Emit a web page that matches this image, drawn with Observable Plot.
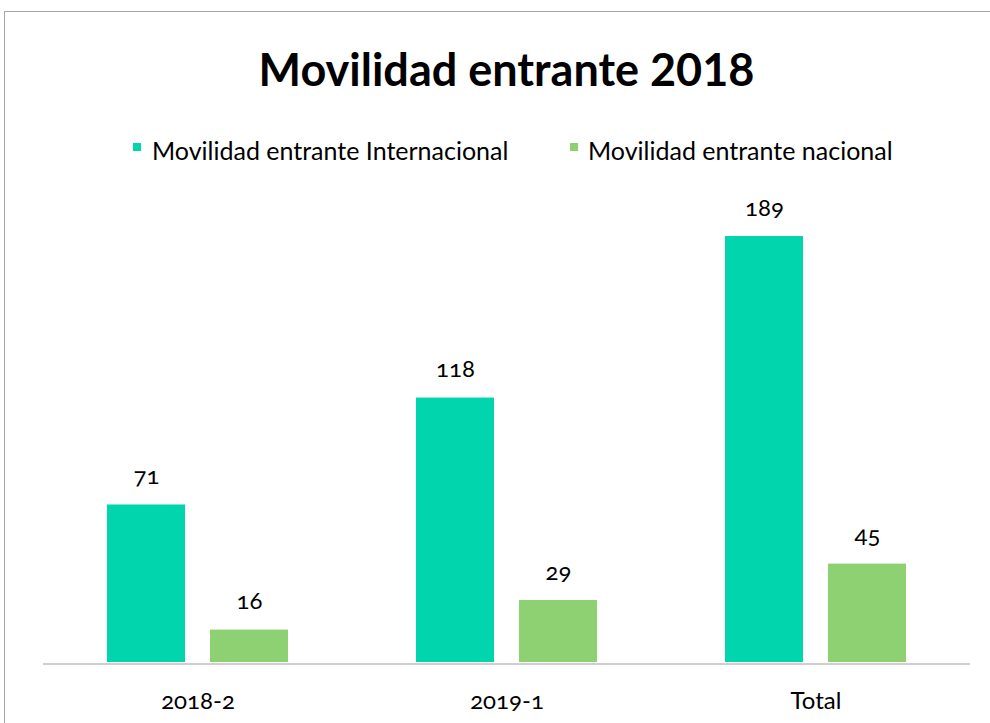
<!DOCTYPE html>
<html><head><meta charset="utf-8">
<script src="https://cdn.jsdelivr.net/npm/d3@7"></script>
<script src="https://cdn.jsdelivr.net/npm/@observablehq/plot@0.6"></script>
<style>
body{margin:0;background:#fff;font-family:Lato,sans-serif;}
#wrap{position:relative;width:990px;height:723px;overflow:hidden;background:#fff;}
#frame{position:absolute;left:4px;top:11px;width:1000px;height:800px;border:1px solid #a6a6a6;}
#title{position:absolute;left:0;width:1013px;top:42px;text-align:center;font-weight:700;font-size:45px;line-height:1.2;color:#000;white-space:nowrap;}
.leg{position:absolute;top:135px;font-size:25px;line-height:1.2;color:#000;white-space:nowrap;}
.sw{position:absolute;width:8px;height:8px;top:143px;}
#chart{position:absolute;left:0;top:0;}
</style></head>
<body><div id="wrap"><div id="frame"></div><div id="chart"></div><div id="title"></div><div id="legend"></div></div>
<script>
const titleText = "Movilidad entrante 2018";
const categories = ["2018-2", "2019-1", "Total"];
const series = ["Movilidad entrante Internacional", "Movilidad entrante nacional"];
const internacional = [71, 118, 189];
const nacional = [16, 29, 45];
const colors = ["#00d5ae", "#8dd173"];

const data = categories.flatMap((c, i) => [
  {cat: c, serie: series[0], value: internacional[i]},
  {cat: c, serie: series[1], value: nacional[i]}
]);

document.getElementById("title").textContent = titleText;
const legend = document.getElementById("legend");
const legPos = [[133, 152], [570, 588]];
series.forEach((s, i) => {
  const sw = document.createElement("div");
  sw.className = "sw"; sw.style.left = legPos[i][0] + "px"; sw.style.background = colors[i];
  const t = document.createElement("div");
  t.className = "leg"; t.style.left = legPos[i][1] + "px"; t.textContent = s;
  legend.appendChild(sw); legend.appendChild(t);
});

const chart = Plot.plot({
  width: 990, height: 723,
  marginLeft: 43, marginRight: 20, marginTop: 211, marginBottom: 57,
  fx: {domain: categories, padding: 0, label: null},
  x: {domain: series, paddingInner: 0.243, paddingOuter: 0.621, axis: null},
  y: {domain: [0, 200], axis: null},
  color: {domain: series, range: colors},
  style: {fontFamily: "Lato, sans-serif", background: "transparent", fontVariantNumeric: "oldstyle-nums"},
  marks: [
    Plot.barY(data, {fx: "cat", x: "serie", y: "value", fill: "serie", insetBottom: 4}),
    Plot.ruleY([0], {stroke: "#bfbfbf", strokeWidth: 1.5, dy: -2.5}),
    Plot.text(data, {fx: "cat", x: "serie", y: "value", text: d => String(d.value), dy: -21, lineAnchor: "bottom", fontSize: 24, fill: "#000"}),
    Plot.axisFx({anchor: "bottom", tickSize: 0, tickPadding: 25, fontSize: 24, label: null, color: "#000"})
  ]
});
document.getElementById("chart").appendChild(chart);
</script></body></html>
